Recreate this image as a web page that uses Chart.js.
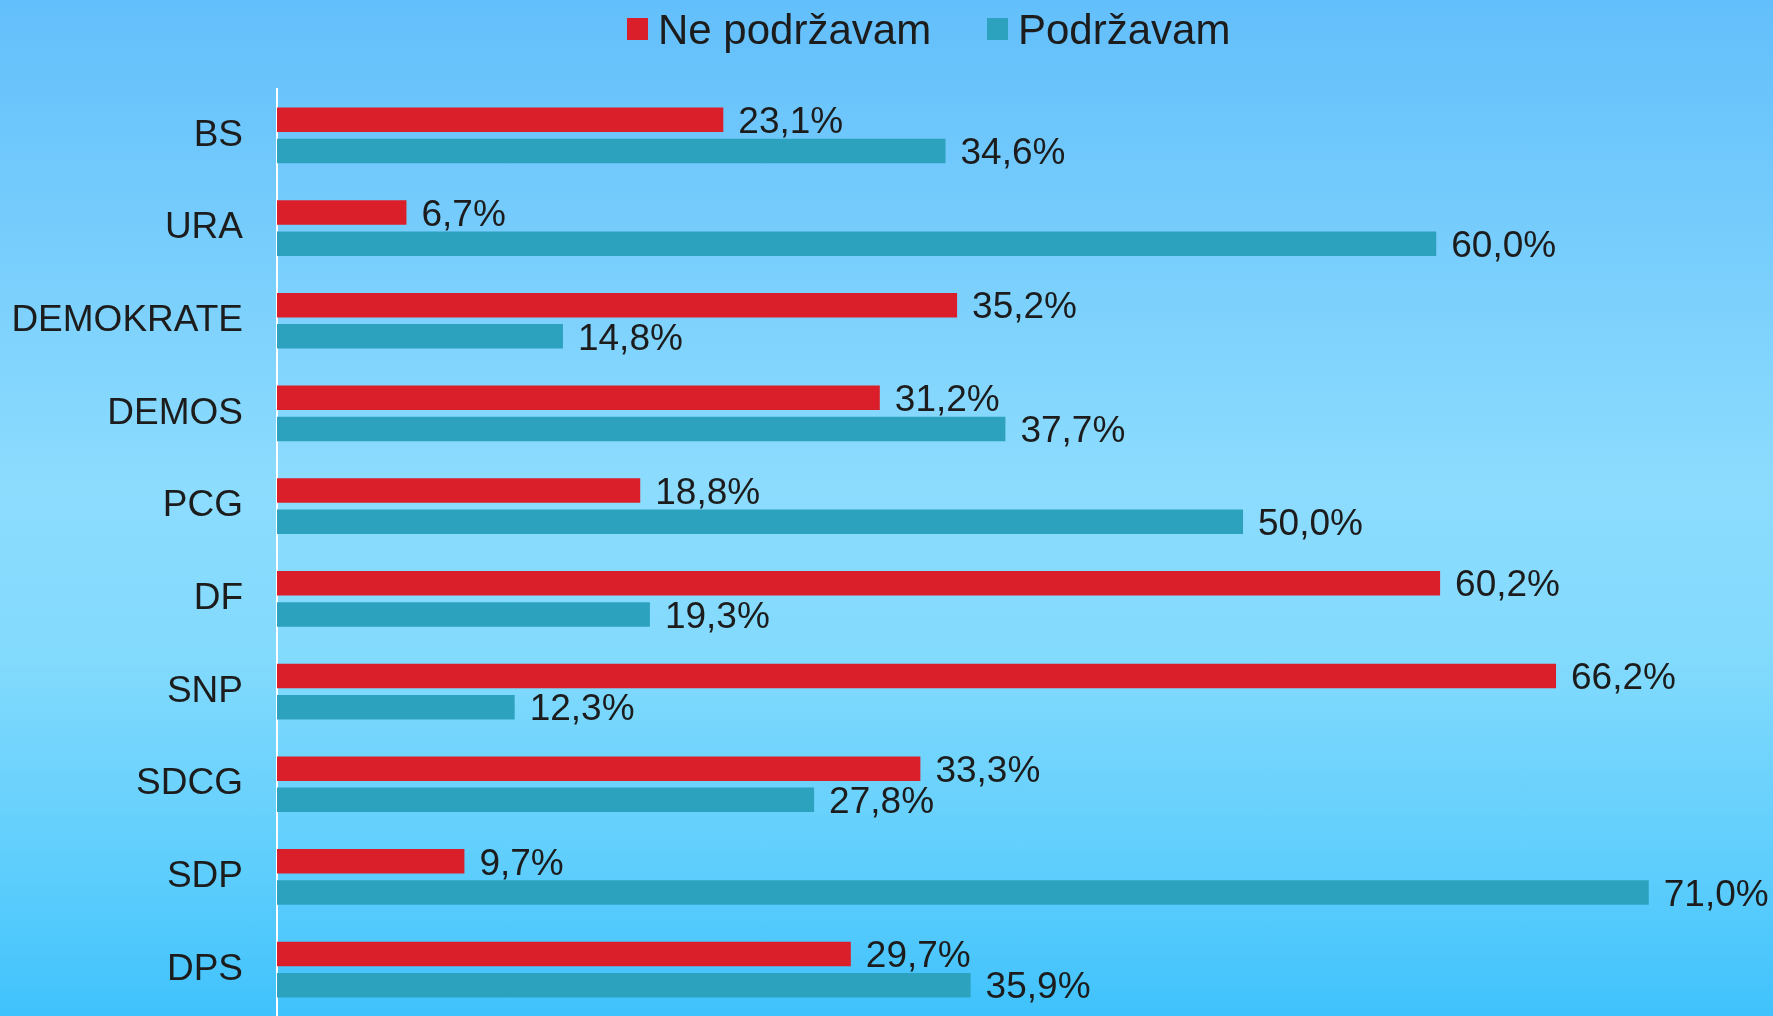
<!DOCTYPE html>
<html>
<head>
<meta charset="utf-8">
<script src="https://cdn.jsdelivr.net/npm/chart.js@4/dist/chart.umd.min.js"></script>
<style>
html,body{margin:0;padding:0;}
body{width:1773px;height:1016px;overflow:hidden;
background:linear-gradient(to bottom,#63bffb 0%,#78cefc 25%,#8cdcfe 48%,#82dafd 65%,#5fcefc 85%,#40c2fc 100%);}
canvas{display:block;}
</style>
</head>
<body>
<canvas id="c" width="1773" height="1016"></canvas>
<script>
const categories = ["BS","URA","DEMOKRATE","DEMOS","PCG","DF","SNP","SDCG","SDP","DPS"];
const seriesNames = ["Ne podržavam","Podržavam"];
const nePodrzavam = [23.1,6.7,35.2,31.2,18.8,60.2,66.2,33.3,9.7,29.7];
const podrzavam   = [34.6,60.0,14.8,37.7,50.0,19.3,12.3,27.8,71.0,35.9];
const seriesColors = ["#db1f2a","#2ca2bf"];

const FONT = '"Liberation Sans", Arial, sans-serif';

const valueLabels = {
  id:'valueLabels',
  afterDatasetsDraw(chart){
    const ctx = chart.ctx;
    ctx.save();
    ctx.font = '37px ' + FONT;
    ctx.fillStyle = '#1c1c1c';
    ctx.textAlign = 'left';
    ctx.textBaseline = 'middle';
    chart.data.datasets.forEach((ds, di) => {
      const meta = chart.getDatasetMeta(di);
      meta.data.forEach((bar, i) => {
        const v = ds.data[i];
        const txt = v.toFixed(1).replace('.', ',') + '%';
        ctx.fillText(txt, bar.x + 15, bar.y + 3);
      });
    });
    ctx.restore();
  }
};

const customLegend = {
  id:'customLegend',
  afterDraw(chart){
    const ctx = chart.ctx;
    ctx.save();
    const items = [
      {x:627, textX:658},
      {x:987, textX:1018}
    ];
    chart.data.datasets.forEach((ds, i) => {
      const it = items[i];
      ctx.fillStyle = ds.backgroundColor;
      ctx.fillRect(it.x, 18, 21, 22);
      ctx.font = '42px ' + FONT;
      ctx.fillStyle = '#1c1c1c';
      ctx.textAlign = 'left';
      ctx.textBaseline = 'alphabetic';
      ctx.fillText(ds.label, it.textX, 44);
    });
    ctx.restore();
  }
};

new Chart(document.getElementById('c'), {
  type:'bar',
  data:{
    labels: categories,
    datasets:[
      {label:seriesNames[0], data:nePodrzavam, backgroundColor:seriesColors[0], categoryPercentage:0.673, barPercentage:0.785},
      {label:seriesNames[1], data:podrzavam, backgroundColor:seriesColors[1], categoryPercentage:0.673, barPercentage:0.785}
    ]
  },
  options:{
    indexAxis:'y',
    responsive:false,
    animation:false,
    devicePixelRatio:1,
    layout:{padding:{top:89,right:0,bottom:0,left:0}},
    plugins:{legend:{display:false}, tooltip:{enabled:false}},
    scales:{
      x:{display:false, min:0, max:77.43, grid:{display:false}},
      y:{
        grid:{display:false, drawTicks:false},
        border:{display:true, color:'#ffffff', width:2},
        ticks:{color:'#1c1c1c', font:{family:FONT, size:37}, padding:34},
        afterFit(scale){ scale.width = 277; scale.paddingTop = 0; scale.paddingBottom = 0; }
      }
    }
  },
  plugins:[valueLabels, customLegend]
});
</script>
</body>
</html>
